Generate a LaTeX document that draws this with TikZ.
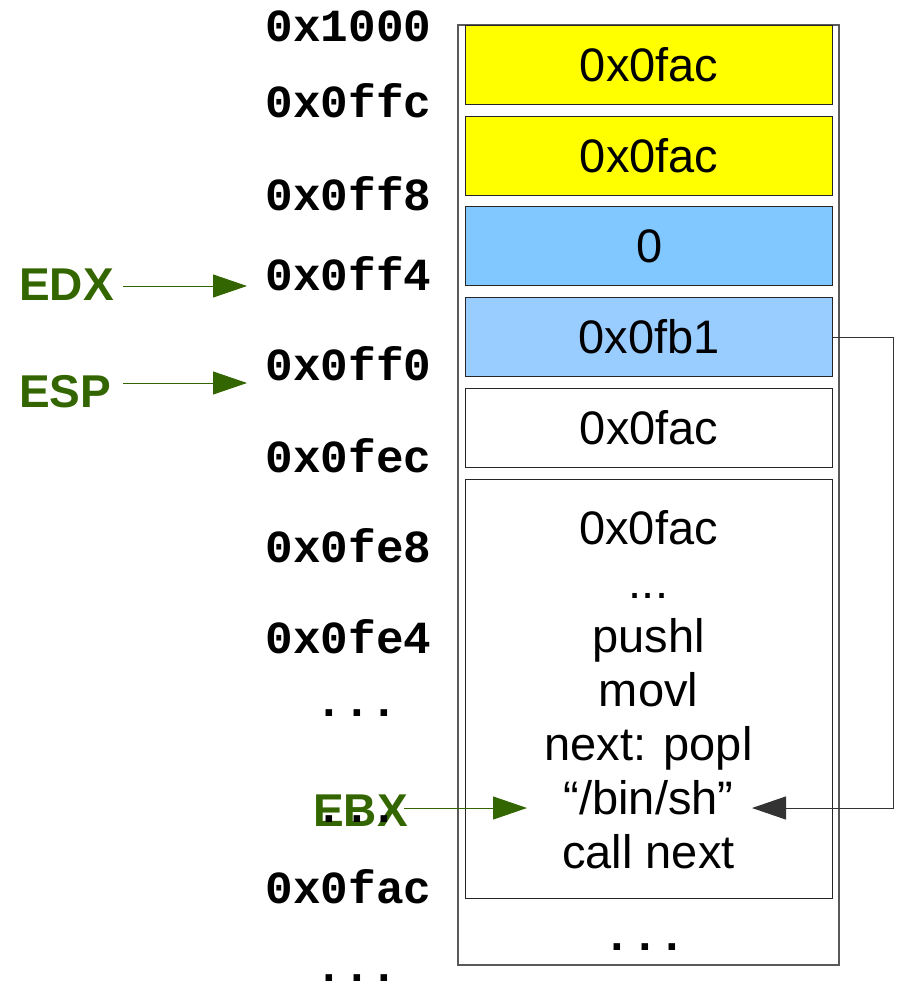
\documentclass[tikz,border=0pt]{standalone}
\usepackage{fontspec}
\setmainfont{Liberation Sans}
\setmonofont{Liberation Mono}
\usetikzlibrary{arrows.meta}
\definecolor{regc}{RGB}{51,102,0}
\definecolor{blueA}{RGB}{128,200,255}
\definecolor{blueB}{RGB}{153,204,255}
\definecolor{yel}{RGB}{255,255,0}
\begin{document}
\begin{tikzpicture}[x=1pt,y=-1pt,
  cell/.style={draw=black!85, line width=1.2pt, minimum width=367pt, minimum height=79pt, inner sep=0pt, anchor=north west, font=\fontsize{47}{54}\selectfont},
  addr/.style={font=\fontsize{46}{46}\selectfont\ttfamily\bfseries, anchor=base, inner sep=0pt},
  val/.style={font=\fontsize{47}{54}\selectfont, anchor=base, inner sep=0pt},
  reg/.style={font=\fontsize{46}{46}\selectfont\bfseries, text=regc, anchor=base west, inner sep=0pt},
  regarrow/.style={draw=regc, line width=1pt, -{Triangle[length=34pt,width=23pt]}},
  ptrarrow/.style={draw=black!80, line width=1pt, -{Triangle[length=34pt,width=23pt]}}]
\useasboundingbox (0,0) rectangle (903,982);
% outer column
\draw[draw=black!65, line width=1.2pt] (458,25) rectangle (839,965);
% cells
\node[cell, fill=yel] (b1) at (465,25) {0x0fac};
\node[cell, fill=yel] (b2) at (465,116) {0x0fac};
\node[cell, fill=blueA] (b3) at (465,206) {0};
\node[cell, fill=blueB] (b4) at (465,297) {0x0fb1};
\node[cell, fill=white] (b5) at (465,388) {0x0fac};
\node[cell, fill=white, minimum height=419pt] (b6) at (465,479) {};
% text in big cell
\node[val] (t1) at (648.5,544) {0x0fac};
\node[val] (t2) at (648.5,598) {...};
\node[val] (t3) at (648.5,652) {pushl};
\node[val] (t4) at (648.5,706) {movl};
\node[val] (t5) at (648.5,760) {next: popl};
\node[val] (t6) at (648.5,814) {“/bin/sh”};
\node[val] (t7) at (648.5,868) {call next};
\node[addr] (cdots) at (645,950) {...};
% addresses
\node[addr] (a0) at (348.5,42) {0x1000};
\node[addr] (a1) at (348.5,117) {0x0ffc};
\node[addr] (a2) at (348.5,210) {0x0ff8};
\node[addr] (a3) at (348.5,290) {0x0ff4};
\node[addr] (a4) at (348.5,380) {0x0ff0};
\node[addr] (a5) at (348.5,472) {0x0fec};
\node[addr] (a6) at (348.5,562) {0x0fe8};
\node[addr] (a7) at (348.5,653) {0x0fe4};
\node[addr] (d1) at (357,716) {...};
\node[addr] (a8) at (348.5,903) {0x0fac};
\node[addr] (d3) at (357,981) {...};
% registers
\node[reg] (edx) at (19,300) {EDX};
\node[reg] (esp) at (19,407) {ESP};
\node[reg] (ebx) at (313,826) {EBX};
\node[addr] (d2) at (357,822) {...};
% register arrows
\coordinate (edxs) at (123,286);
\coordinate (edxt) at (247,286);
\coordinate (esps) at (123,383);
\coordinate (espt) at (247,383);
\coordinate (ebxs) at (404,808);
\coordinate (ebxt) at (527,808);
\draw[regarrow] (edxs) -- (edxt);
\draw[regarrow] (esps) -- (espt);
\draw[regarrow] (ebxs) -- (ebxt);
% pointer from 0x0fb1 to /bin/sh
\coordinate (turn) at (893,808);
\coordinate (bintip) at (752,808);
\draw[ptrarrow] (b4.east) -| (turn) -- (bintip);
\end{tikzpicture}
\end{document}
